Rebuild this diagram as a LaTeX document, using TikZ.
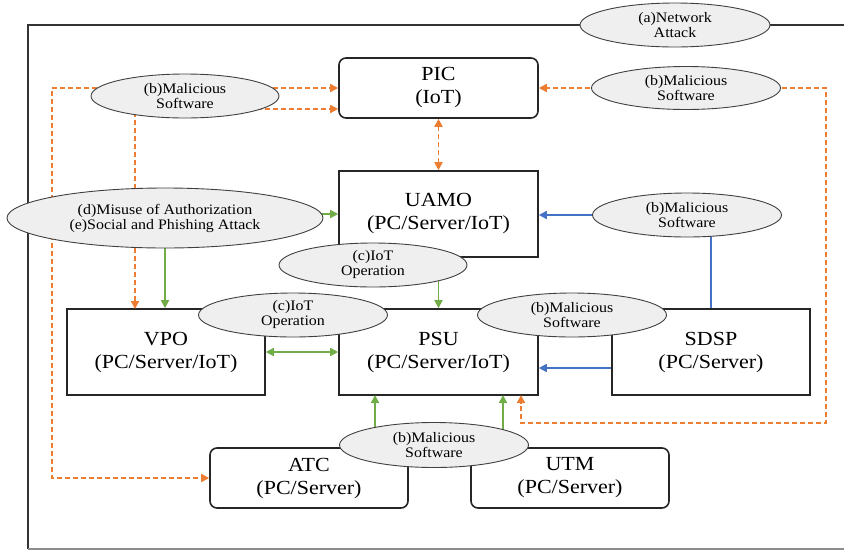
\documentclass[tikz,border=0pt]{standalone}
\usepackage{fontspec}
\setmainfont{Liberation Serif}[FakeStretch=1.1]
\usetikzlibrary{shapes.geometric,arrows.meta}
\definecolor{oc}{HTML}{ED7D31}
\definecolor{gc}{HTML}{70AD47}
\definecolor{bc}{HTML}{4472C4}
\definecolor{ef}{HTML}{EFEFEF}
\tikzset{
  sysbox/.style={draw=black!85, line width=1.6pt, fill=white, rectangle, align=center,
    minimum width=198pt, minimum height=86pt, inner sep=0pt, font=\fontsize{20}{23}\selectfont},
  rbox/.style={sysbox, rounded corners=7pt, minimum height=60pt},
  threat/.style={draw=black!75, line width=0.9pt, fill=ef, ellipse, align=center,
    minimum width=189pt, minimum height=44pt, inner sep=0pt, font=\fontsize{14.5}{15}\selectfont},
  tip/.style={-{Triangle[length=8pt,width=8pt]}},
  dtip/.style={{Triangle[length=8pt,width=8pt]}-{Triangle[length=8pt,width=8pt]}},
  oline/.style={draw=oc, line width=1.7pt, dash pattern=on 5pt off 3pt},
  gline/.style={draw=gc, line width=1.7pt},
  bline/.style={draw=bc, line width=1.7pt},
}
\begin{document}
\begin{tikzpicture}[x=1pt,y=-1pt]
\useasboundingbox (0,0) rectangle (844,550);
% frame
\coordinate (ftl) at (28,25);
\coordinate (ftr) at (844,25);
\coordinate (fbl) at (28,549);
\coordinate (fbr) at (844,549);
\draw[line width=1.6pt, black!80] (ftr) -- (ftl) -- (fbl);
\draw[line width=1.6pt, black!45] (fbl) -- (fbr);
% boxes
\node[rbox, minimum width=199pt] (pic) at (438.5,88) {PIC\\(IoT)};
\node[sysbox, minimum width=199pt] (uamo) at (438.5,214) {UAMO\\(PC/Server/IoT)};
\node[sysbox] (vpo) at (166,352) {VPO\\(PC/Server/IoT)};
\node[sysbox, minimum width=199pt] (psu) at (438.5,352) {PSU\\(PC/Server/IoT)};
\node[sysbox] (sdsp) at (711,352) {SDSP\\(PC/Server)};
\node[rbox] (atc) at (309,478) {ATC\\(PC/Server)};
\node[rbox] (utm) at (570,478) {UTM\\(PC/Server)};
% helper coordinates
\coordinate (mb1c) at (185,96);
\coordinate (mr1c) at (686,88);
\coordinate (dec) at (165,218);
\coordinate (mr2c) at (687,215);
\coordinate (c1c) at (373,265);
\coordinate (mb3c) at (434,445);
\coordinate (p2) at ([yshift=-21pt]pic.west);
\coordinate (lc) at (52,88);
\coordinate (v1) at (135,309);
\coordinate (rc) at (826,423);
\coordinate (psub) at (521,395);
\coordinate (g1) at (375,395);
\coordinate (g2) at (503,395);
\coordinate (s1) at ([yshift=-16pt]sdsp.west);
% orange dashed
\draw[oline, tip] (mb1c |- pic.west) -- (pic.west);
\draw[oline, tip] (mb1c |- p2) -- (p2);
\draw[oline, tip] (mb1c |- pic.west) -- (lc) |- (atc.west);
\draw[oline, tip] (mb1c -| v1) -- (v1);
\draw[oline, tip] (mr1c) -- (pic.east);
\draw[oline, tip] (mr1c) -| (rc) -| (psub);
\draw[oline, dtip] (pic.south) -- (uamo.north);
% green
\draw[gline, tip] (dec |- uamo.west) -- (uamo.west);
\draw[gline, tip] (dec) -- (dec |- vpo.north);
\draw[gline, tip] (c1c -| psu.north) -- (psu.north);
\draw[gline, dtip] (vpo.east) -- (psu.west);
\draw[gline, tip] (mb3c -| g1) -- (g1);
\draw[gline, tip] (mb3c -| g2) -- (g2);
% blue
\draw[bline, tip] (mr2c) -- (mr2c -| uamo.east);
\draw[bline] (mr2c -| sdsp.north) -- (sdsp.north);
\draw[bline, tip] (s1) -- (s1 -| psu.east);
% threat ellipses
\node[threat, minimum width=190pt] (na) at (675,25) {(a)Network\\Attack};
\node[threat, minimum width=188pt] (mb1) at (mb1c) {(b)Malicious\\Software};
\node[threat, minimum height=43pt] (mr1) at (mr1c) {(b)Malicious\\Software};
\node[threat, minimum width=316pt, minimum height=60pt] (de) at (dec) {(d)Misuse of Authorization\\(e)Social and Phishing Attack};
\node[threat] (mr2) at (mr2c) {(b)Malicious\\Software};
\node[threat, minimum width=188pt] (c1) at (c1c) {(c)IoT\\Operation};
\node[threat] (c2) at (293,315) {(c)IoT\\Operation};
\node[threat] (mb2) at (572,315) {(b)Malicious\\Software};
\node[threat, minimum height=45pt] (mb3) at (mb3c) {(b)Malicious\\Software};
\end{tikzpicture}
\end{document}
